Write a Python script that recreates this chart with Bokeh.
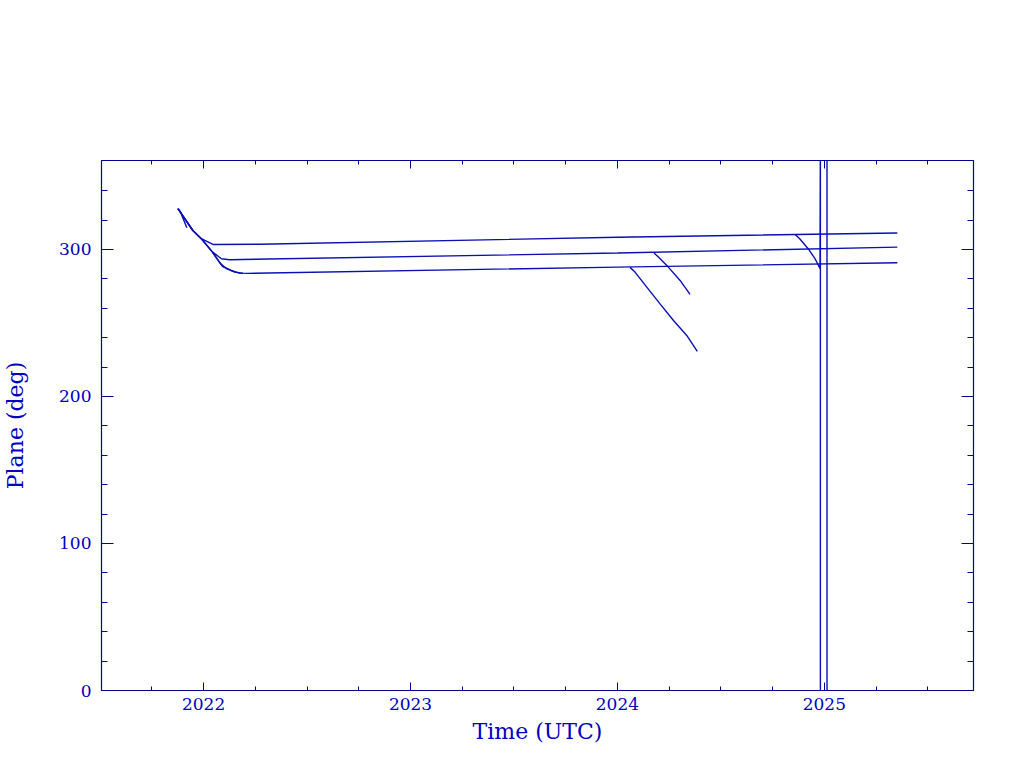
from bokeh.plotting import figure
from bokeh.models import FixedTicker, LinearAxis, Range1d
from bokeh.embed import file_html
from bokeh.resources import INLINE

# ---- data ----
plane_a_t = [2021.876, 2021.948, 2021.989, 2022.045, 2022.27, 2024.0, 2025.353]
plane_a_v = [327.7, 312.9, 307.3, 303.4, 303.5, 308.3, 311.2]

plane_b_t = [2021.876, 2021.948, 2021.989, 2022.044, 2022.086, 2022.126, 2024.0, 2025.353]
plane_b_v = [327.7, 312.9, 307.3, 298.2, 293.7, 293.0, 297.6, 301.6]

plane_c_t = [2021.876, 2021.948, 2021.989, 2022.044, 2022.092, 2022.134, 2022.174, 2022.213, 2024.0, 2025.353]
plane_c_v = [327.7, 312.9, 307.3, 297.9, 288.4, 285.7, 283.9, 283.7, 288.0, 290.9]

plane_d_t = [2022.044, 2022.08, 2022.11, 2022.15, 2022.19]
plane_d_v = [297.9, 290.5, 287.0, 284.6, 283.8]

stub_t = [2021.876, 2021.887, 2021.919]
stub_v = [327.7, 325.9, 314.7]

branch_c_t = [2024.061, 2024.085, 2024.142, 2024.206, 2024.271, 2024.335, 2024.386]
branch_c_v = [287.8, 284.6, 274.4, 263.0, 251.7, 241.5, 230.6]

branch_b_t = [2024.177, 2024.198, 2024.246, 2024.303, 2024.351]
branch_b_v = [297.6, 294.8, 288.0, 278.9, 269.4]

branch_a_t = [2024.859, 2024.881, 2024.922, 2024.955, 2024.979, 2024.981, 2024.981, 2025.013, 2025.013]
branch_a_v = [310.2, 307.3, 300.5, 293.7, 287.1, 380.0, -20.0, -20.0, 380.0]

x_major = [2022, 2023, 2024, 2025]
x_minor = [2021.75, 2022.25, 2022.5, 2022.75, 2023.25, 2023.5, 2023.75,
           2024.25, 2024.5, 2024.75, 2025.25, 2025.5]
y_major = [0, 100, 200, 300]
y_minor = [20, 40, 60, 80, 120, 140, 160, 180, 220, 240, 260, 280, 320, 340]

AXIS_COLOR = "#000096"
LINE_COLOR = "#0a10b4"
TEXT_COLOR = "#0000c0"
FONT = "DejaVu Serif"

p = figure(width=1008, height=750,
           x_range=Range1d(2021.5065, 2025.721), y_range=Range1d(0, 360.5),
           output_backend="svg", toolbar_location=None,
           min_border_left=95, min_border_right=35,
           min_border_top=160, min_border_bottom=60)
p.xgrid.visible = False
p.ygrid.visible = False
p.outline_line_color = AXIS_COLOR
p.background_fill_color = "white"
p.border_fill_color = "white"

series = [(plane_a_t, plane_a_v), (plane_b_t, plane_b_v), (plane_c_t, plane_c_v),
          (plane_d_t, plane_d_v), (stub_t, stub_v), (branch_c_t, branch_c_v),
          (branch_b_t, branch_b_v), (branch_a_t, branch_a_v)]
for t, v in series:
    p.line(t, v, line_color=LINE_COLOR, line_width=1.4)

def style(ax, major, minor, tick_major, tick_minor, show_labels):
    ax.ticker = FixedTicker(ticks=major, minor_ticks=minor)
    ax.axis_line_color = AXIS_COLOR
    ax.axis_line_width = 1.2
    ax.major_tick_line_color = AXIS_COLOR
    ax.minor_tick_line_color = AXIS_COLOR
    ax.major_tick_in = tick_major
    ax.major_tick_out = 0
    ax.minor_tick_in = tick_minor
    ax.minor_tick_out = 0
    ax.major_label_text_color = TEXT_COLOR
    ax.major_label_text_font = FONT
    ax.axis_label_text_color = TEXT_COLOR
    ax.axis_label_text_font = FONT
    ax.axis_label_text_font_style = "normal"
    ax.major_label_text_font_size = "17px"
    ax.axis_label_text_font_size = "22px"
    if not show_labels:
        ax.major_label_overrides = {t: "" for t in major}
        ax.major_label_standoff = 0
        ax.axis_label = None

xa = p.xaxis[0]
xa.axis_label = "Time (UTC)"
style(xa, x_major, x_minor, 8, 4, True)
xa.major_label_standoff = 7
xa.axis_label_standoff = 6

ya = p.yaxis[0]
ya.axis_label = "Plane (deg)"
style(ya, y_major, y_minor, 12, 6, True)
ya.major_label_standoff = 10
ya.axis_label_standoff = 28

top = LinearAxis()
style(top, x_major, x_minor, 8, 4, False)
p.add_layout(top, "above")
right = LinearAxis()
style(right, y_major, y_minor, 12, 6, False)
p.add_layout(right, "right")

open("out.html", "w").write(file_html(p, INLINE))
